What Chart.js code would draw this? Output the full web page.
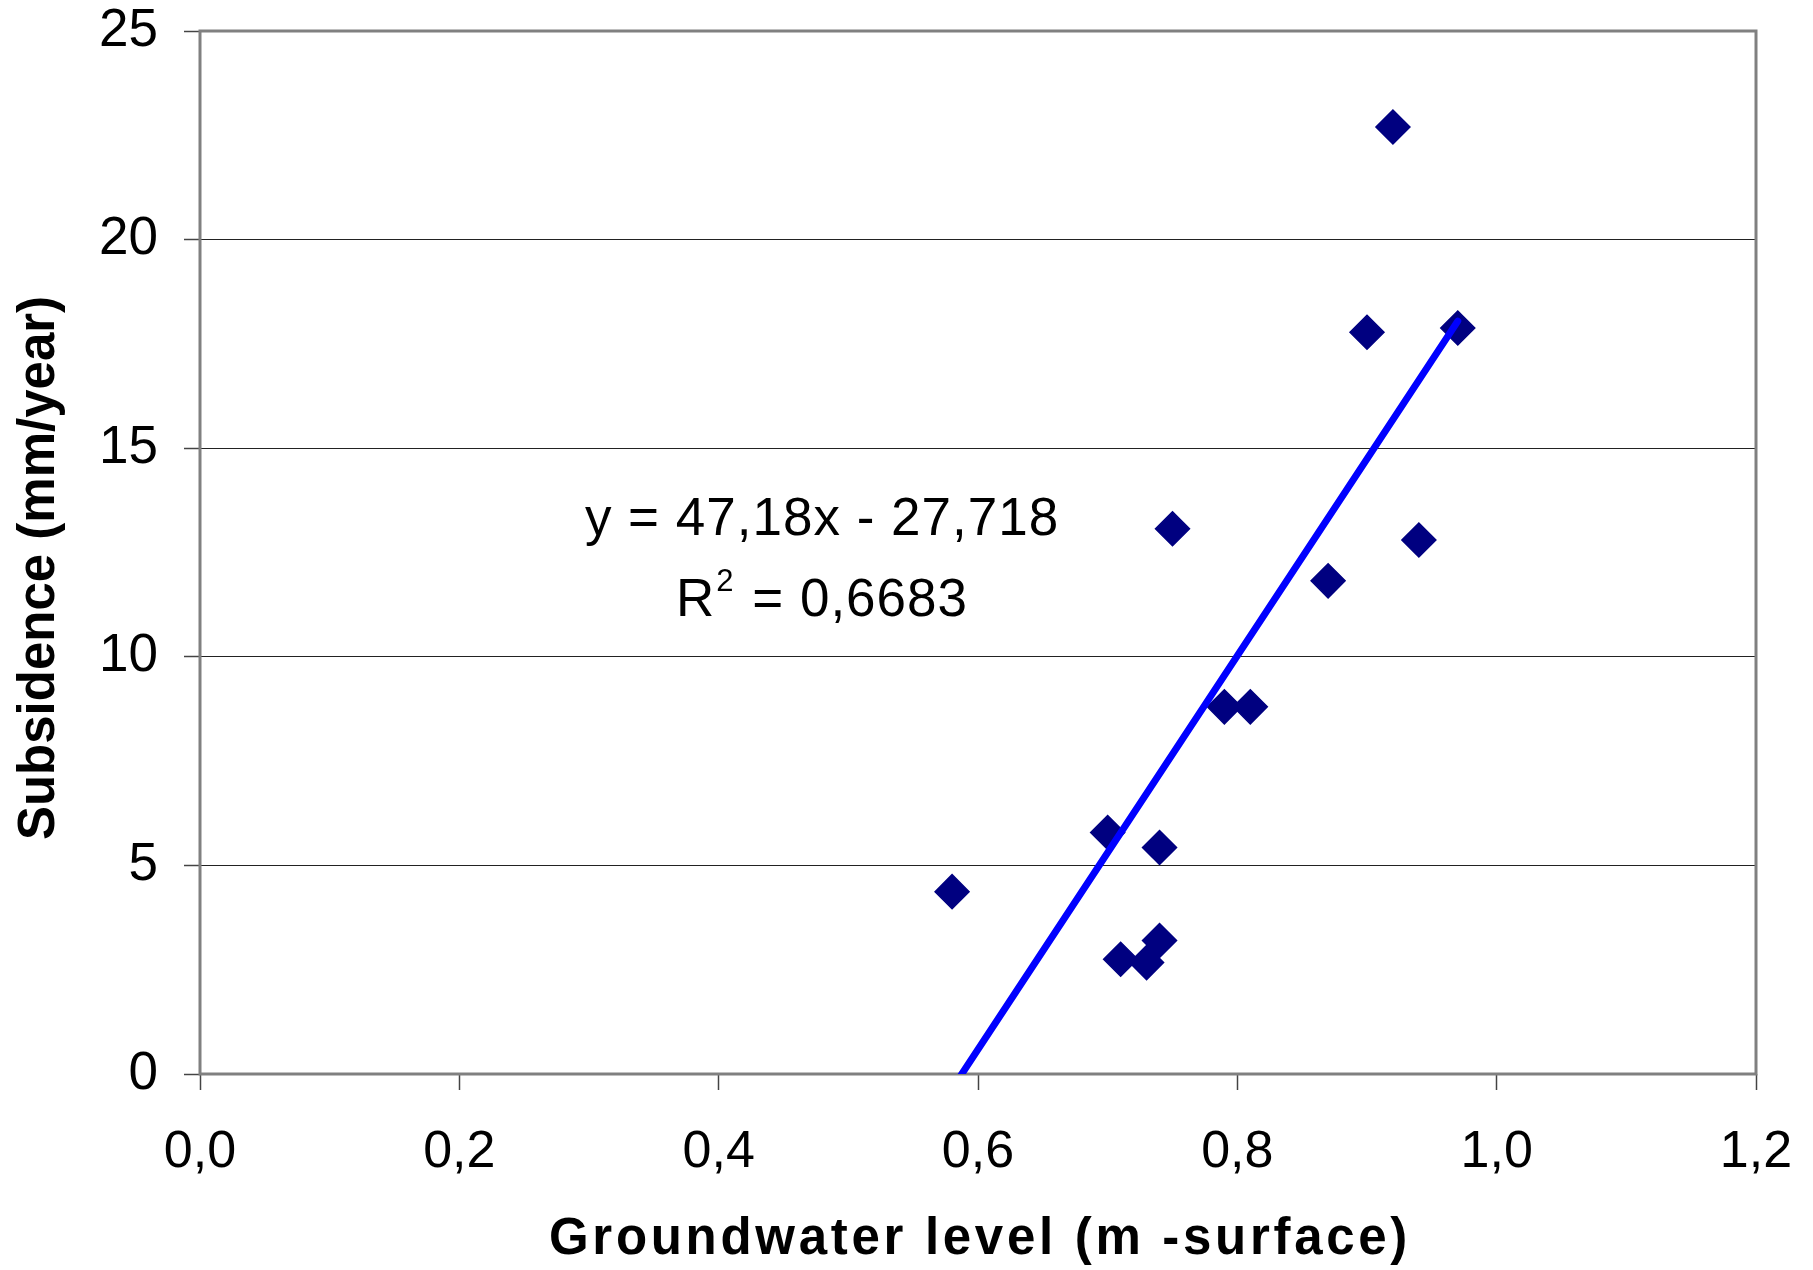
<!DOCTYPE html>
<html>
<head>
<meta charset="utf-8">
<script src="https://cdn.jsdelivr.net/npm/chart.js@4.4.1/dist/chart.umd.min.js"></script>
<style>
  html, body { margin: 0; padding: 0; background: #fff; }
</style>
</head>
<body>
<canvas id="myChart" width="1813" height="1270"></canvas>
<script>
// data
const groundwater = [0.58, 0.70, 0.71, 0.73, 0.74, 0.74, 0.75, 0.79, 0.81, 0.87, 0.90, 0.92, 0.94, 0.97];
const subsidence  = [4.37, 5.79, 2.75, 2.67, 5.43, 3.20, 13.07, 8.80, 8.80, 11.82, 17.78, 22.70, 12.80, 17.88];

// trendline as printed on the chart
const trendSlope = 47.18;
const trendIntercept = -27.718;
const trendLabel = 'y = 47,18x - 27,718';
const r2Label = '0,6683';

const xTickLabels = ['0,0', '0,2', '0,4', '0,6', '0,8', '1,0', '1,2'];
const yTickLabels = ['0', '5', '10', '15', '20', '25'];
const xTitle = 'Groundwater level (m -surface)';
const yTitle = 'Subsidence (mm/year)';

const FONT = '"Liberation Sans", Arial, Helvetica, sans-serif';

const ctx = document.getElementById('myChart');
Chart.defaults.color = '#000';
Chart.defaults.font.family = FONT;

const trendX = [Math.min(...groundwater), Math.max(...groundwater)];

// grey box round the plot area
const frame = {
  id: 'frame',
  beforeDatasetsDraw(chart) {
    const a = chart.chartArea;
    const c = chart.ctx;
    c.save();
    c.strokeStyle = '#808080';
    c.lineWidth = 3;
    c.strokeRect(a.left, a.top, a.right - a.left, a.bottom - a.top);
    c.restore();
  }
};

// equation + R², and the two axis titles (x one is letter-spaced)
const labels = {
  id: 'labels',
  afterDraw(chart) {
    const c = chart.ctx;
    const a = chart.chartArea;
    const cx = 822;
    c.save();
    c.fillStyle = '#000';
    c.textBaseline = 'alphabetic';
    c.font = '53px ' + FONT;
    c.letterSpacing = '1px';
    c.textAlign = 'center';
    c.fillText(trendLabel, cx, 535);

    const rest = ' = ' + r2Label;
    const wR = c.measureText('R').width;
    const wRest = c.measureText(rest).width;
    c.font = '31px ' + FONT;
    const w2 = c.measureText('2').width + 3;
    let x = cx - (wR + w2 + wRest) / 2;
    c.textAlign = 'left';
    c.fillText('2', x + wR + 1, 616 - 25);
    c.font = '53px ' + FONT;
    c.fillText('R', x, 616);
    c.fillText(rest, x + wR + w2, 616);

    c.font = 'bold 51px ' + FONT;
    c.letterSpacing = '3.7px';
    c.textAlign = 'center';
    c.textBaseline = 'middle';
    c.fillText(xTitle, (a.left + a.right) / 2 + 2, 1240);

    c.letterSpacing = '0px';
    c.translate(40, 568);
    c.rotate(-Math.PI / 2);
    c.fillText(yTitle, 0, 0);
    c.restore();
  }
};

let chart = new Chart(ctx, {
  type: 'scatter',
  data: {
    datasets: [{
      type: 'line',
      label: 'trend',
      data: trendX.map(x => ({ x: x, y: trendSlope * x + trendIntercept })),
      borderColor: '#0000FF',
      borderWidth: 7,
      borderCapStyle: 'round',
      pointRadius: 0,
      fill: false,
      clip: 0,
      order: 0
    }, {
      label: 'subsidence',
      data: groundwater.map((x, i) => ({ x: x, y: subsidence[i] })),
      pointStyle: 'rectRot',
      pointRadius: 17,
      pointHoverRadius: 17,
      backgroundColor: '#000080',
      borderColor: '#000080',
      borderWidth: 1.5,
      order: 1
    }]
  },
  options: {
    responsive: false,
    animation: false,
    devicePixelRatio: 1,
    layout: { padding: { top: 31, right: 57, left: 0, bottom: 0 } },
    plugins: {
      legend: { display: false },
      tooltip: { enabled: false }
    },
    scales: {
      x: {
        type: 'linear',
        min: 0,
        max: 1.2,
        afterFit: s => {
          s.height = 196;
          s.paddingLeft = 0;
          s.paddingRight = 0;
        },
        afterBuildTicks: s => {
          s.ticks = xTickLabels.map((t, i) => ({ value: i * 0.2 }));
        },
        ticks: {
          font: { size: 52 },
          padding: 31,
          maxRotation: 0,
          callback: (v, i) => xTickLabels[i]
        },
        grid: {
          drawOnChartArea: false,
          drawTicks: true,
          tickLength: 16,
          tickColor: '#444',
          tickWidth: 1.5
        },
        border: { display: false },
        title: { display: false, text: xTitle }
      },
      y: {
        min: 0,
        max: 25,
        afterFit: s => {
          s.width = 200;
          s.paddingTop = 0;
          s.paddingBottom = 0;
        },
        afterBuildTicks: s => {
          s.ticks = yTickLabels.map(t => ({ value: Number(t) }));
        },
        ticks: {
          font: { size: 53 },
          padding: 26,
          callback: (v, i) => yTickLabels[i]
        },
        grid: {
          color: c => (c.tick.value === 0 || c.tick.value === 25) ? 'rgba(0,0,0,0)' : '#222',
          lineWidth: 1,
          drawTicks: true,
          tickLength: 16,
          tickColor: '#444',
          tickWidth: 1.5
        },
        border: { display: false },
        title: { display: false, text: yTitle }
      }
    }
  },
  plugins: [frame, labels]
});
</script>
</body>
</html>
